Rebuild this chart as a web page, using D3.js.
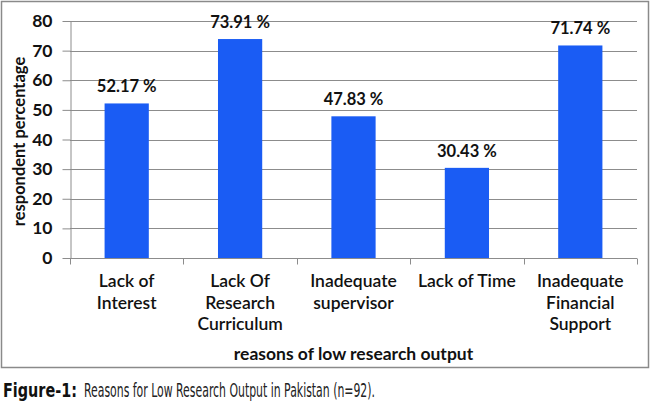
<!DOCTYPE html>
<html>
<head>
<meta charset="utf-8">
<script src="https://cdn.jsdelivr.net/npm/d3@7"></script>
<style>
  body{margin:0;background:#fff;}
  svg{display:block;font-family:Lato,"Open Sans",sans-serif;}
</style>
</head>
<body>
<div id="chart"></div>
<script>
const categories=[
  ['Lack of','Interest'],
  ['Lack Of','Research','Curriculum'],
  ['Inadequate','supervisor'],
  ['Lack of Time'],
  ['Inadequate','Financial','Support']
];
const values=[52.17,73.91,47.83,30.43,71.74];
const yTicks=[0,10,20,30,40,50,60,70,80];

const W=650,H=404;
const m={l:70,r:13,t:21,b:146};
const svg=d3.select('#chart').append('svg').attr('width',W).attr('height',H);

// outer frame
svg.append('rect').attr('x',1.5).attr('y',1.5).attr('width',W-3).attr('height',366)
  .attr('fill','#fff').attr('stroke','#8a8a8a').attr('stroke-width',1.5);

const x=d3.scaleBand().domain(d3.range(categories.length)).range([m.l,W-m.r]).paddingInner(0.61).paddingOuter(0.305);
const xb=d3.scaleBand().domain(d3.range(categories.length)).range([m.l,W-m.r]);
const y=d3.scaleLinear().domain([0,80]).range([H-m.b,m.t]);

// gridlines
svg.append('g').selectAll('line').data(yTicks.slice(1)).join('line')
  .attr('x1',m.l).attr('x2',W-m.r)
  .attr('y1',d=>Math.round(y(d))+0.5).attr('y2',d=>Math.round(y(d))+0.5)
  .attr('stroke','#8c8c8c').attr('stroke-width',1);

// y axis
const ya=svg.append('g').attr('transform',`translate(${m.l+0.5},0)`)
  .call(d3.axisLeft(y).tickValues(yTicks).tickSize(8).tickPadding(10).tickSizeOuter(0));
ya.select('.domain').attr('stroke','#8c8c8c');
ya.selectAll('.tick line').attr('stroke','#8c8c8c');
ya.selectAll('.tick text').attr('font-family','Lato,"Open Sans",sans-serif')
  .attr('font-size',17.5).attr('font-weight',700).attr('fill','#111');

// x axis line and tick marks at band boundaries
const baseY=Math.round(y(0))+0.5;
svg.append('line').attr('x1',m.l).attr('x2',W-m.r).attr('y1',baseY).attr('y2',baseY).attr('stroke','#8c8c8c');
svg.append('g').selectAll('line').data(d3.range(categories.length+1)).join('line')
  .attr('x1',d=>Math.round(d<categories.length?xb(d):W-m.r)+0.5)
  .attr('x2',d=>Math.round(d<categories.length?xb(d):W-m.r)+0.5)
  .attr('y1',baseY).attr('y2',baseY+6).attr('stroke','#8c8c8c');

// bars
svg.append('g').selectAll('rect').data(values).join('rect')
  .attr('x',(d,i)=>x(i)).attr('width',x.bandwidth())
  .attr('y',d=>y(d)).attr('height',d=>y(0)-y(d))
  .attr('fill','#1a5cf4');

// value labels
svg.append('g').selectAll('text').data(values).join('text')
  .attr('x',(d,i)=>x(i)+x.bandwidth()/2).attr('y',d=>y(d)-11)
  .attr('text-anchor','middle').attr('font-size',16.5).attr('font-weight',700).attr('fill','#111')
  .text(d=>d.toFixed(2)+' %');

// category labels
const cl=svg.append('g').selectAll('text').data(categories).join('text')
  .attr('x',(d,i)=>xb(i)+xb.bandwidth()/2).attr('y',287)
  .attr('text-anchor','middle').attr('font-size',17.5).attr('font-weight',600).attr('fill','#111');
cl.selectAll('tspan').data(d=>d).join('tspan')
  .attr('x',function(){return this.parentNode.getAttribute('x');})
  .attr('dy',(d,i)=>i?21.5:0).text(d=>d);

// axis titles
svg.append('text').attr('x',(m.l+W-m.r)/2).attr('y',360).attr('text-anchor','middle')
  .attr('font-size',17.5).attr('font-weight',700).attr('fill','#111')
  .text('reasons of low research output');
svg.append('text').attr('transform',`translate(25,${(y(0)+y(80))/2+2}) rotate(-90)`)
  .attr('text-anchor','middle').attr('font-size',16.5).attr('font-weight',700).attr('fill','#111')
  .text('respondent percentage');

// caption
const capFont='"DejaVu Sans Condensed","Liberation Sans Narrow",sans-serif';
svg.append('text').attr('x',3).attr('y',397).attr('font-size',19).attr('font-weight',700).attr('fill','#111')
  .attr('font-family',capFont).attr('textLength',74).attr('lengthAdjust','spacingAndGlyphs')
  .text('Figure-1:');
svg.append('text').attr('x',84).attr('y',397).attr('font-size',19).attr('fill','#222')
  .attr('font-family',capFont).attr('textLength',291).attr('lengthAdjust','spacingAndGlyphs')
  .text('Reasons for Low Research Output in Pakistan (n=92).');
</script>
</body>
</html>
